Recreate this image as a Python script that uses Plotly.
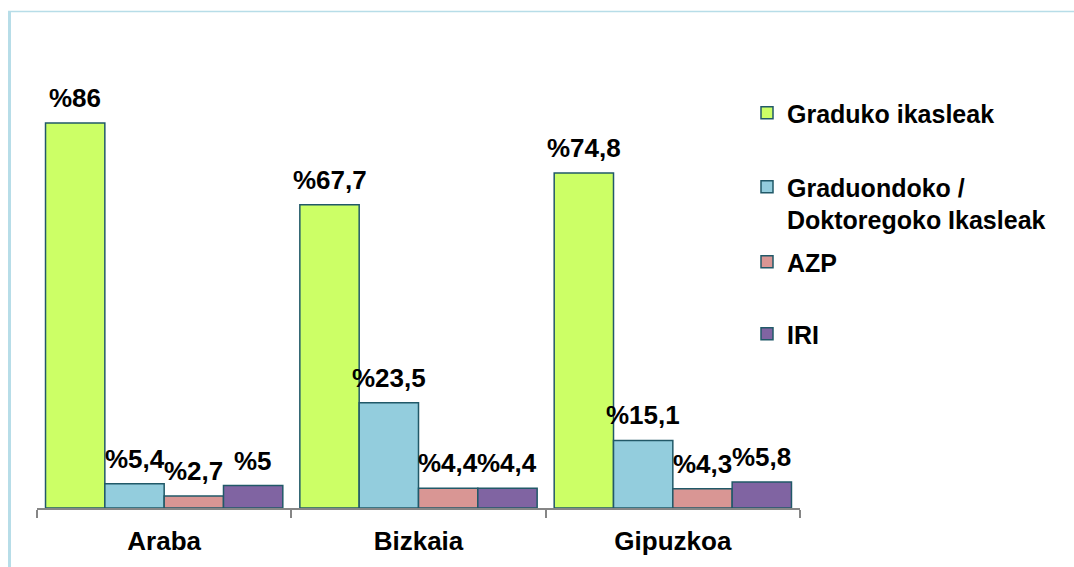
import plotly.graph_objects as go

categories = ["Araba", "Bizkaia", "Gipuzkoa"]
series_names = ["Graduko ikasleak", "Graduondoko /<br>Doktoregoko Ikasleak", "AZP", "IRI"]
graduko = [86, 67.7, 74.8]
graduondoko = [5.4, 23.5, 15.1]
azp = [2.7, 4.4, 4.3]
iri = [5, 4.4, 5.8]
label_texts = [
    ["%86", "%67,7", "%74,8"],
    ["%5,4", "%23,5", "%15,1"],
    ["%2,7", "%4,4", "%4,3"],
    ["%5", "%4,4", "%5,8"],
]

values = [graduko, graduondoko, azp, iri]
colors = ["#CCFF66", "#93CDDD", "#D99694", "#8064A2"]
edge = "#215968"
FONT = "Liberation Sans"

W, H = 1074, 567
ML, MR, MT, MB = 37, 274, 105, 59
plot_w = W - ML - MR
plot_h = H - MT - MB
bargap = 0.067


def px_x(p):
    return (p - ML) / plot_w


def px_y(p):
    return (H - MB - p) / plot_h


fig = go.Figure()
legend_ids = ["legend", "legend2", "legend3", "legend4"]
for i, (name, vals, col) in enumerate(zip(series_names, values, colors)):
    fig.add_trace(go.Bar(
        x=categories, y=vals, name=name,
        marker=dict(color=col, line=dict(color=edge, width=1.5)),
        legend=legend_ids[i],
        hoverinfo="skip",
    ))

# data labels
cat_px = plot_w / len(categories)
bar_px = cat_px * (1 - bargap) / 4
annotations = []
for i, vals in enumerate(values):
    for j, v in enumerate(vals):
        annotations.append(dict(
            x=categories[j], y=v, xref="x", yref="y",
            text=label_texts[i][j], showarrow=False,
            xanchor="center", yanchor="bottom",
            xshift=(i - 1.5) * bar_px, yshift=8,
            font=dict(family=FONT, size=26, color="#000000", weight="bold"),
        ))

# frame lines (light blue)
shapes = [
    dict(type="line", xref="paper", yref="paper",
         x0=px_x(9.5), x1=px_x(9.5), y0=px_y(11), y1=px_y(H + 5),
         line=dict(color="#B7DDE8", width=3)),
    dict(type="line", xref="paper", yref="paper",
         x0=px_x(8), x1=px_x(W + 5), y0=px_y(11.5), y1=px_y(11.5),
         line=dict(color="#B7DDE8", width=1.5)),
]

legend_font = dict(family=FONT, size=25, color="#000000", weight="bold")
legend_centers = [113, 180, 262, 334]
layout_legends = {}
for lid, cy in zip(legend_ids, legend_centers):
    layout_legends[lid] = dict(
        x=px_x(747), y=px_y(cy), xref="paper", yref="paper",
        xanchor="left", yanchor="middle",
        font=legend_font, bgcolor="rgba(0,0,0,0)",
        valign="top", itemclick=False, itemdoubleclick=False,
    )
# two-line entry: anchor its top edge
layout_legends["legend2"]["yanchor"] = "top"
layout_legends["legend2"]["y"] = px_y(legend_centers[1] - 16)

fig.update_layout(
    width=W, height=H,
    margin=dict(l=ML, r=MR, t=MT, b=MB, pad=0),
    paper_bgcolor="white", plot_bgcolor="white",
    barmode="group", bargap=bargap, bargroupgap=0,
    showlegend=True,
    annotations=annotations,
    shapes=shapes,
    xaxis=dict(
        showline=True, linecolor="#868686", linewidth=2,
        ticks="outside", tickson="boundaries", ticklen=8, tickwidth=2,
        tickcolor="#868686", showgrid=False,
        tickfont=dict(family=FONT, size=26, color="#000000", weight="bold"),
        ticklabelstandoff=9,
    ),
    yaxis=dict(range=[0, 90], visible=False, showgrid=False, zeroline=False),
    **layout_legends,
)

fig.write_html(
    "out.html",
    config={"displayModeBar": False},
    post_script="document.body.style.margin='0';",
)
